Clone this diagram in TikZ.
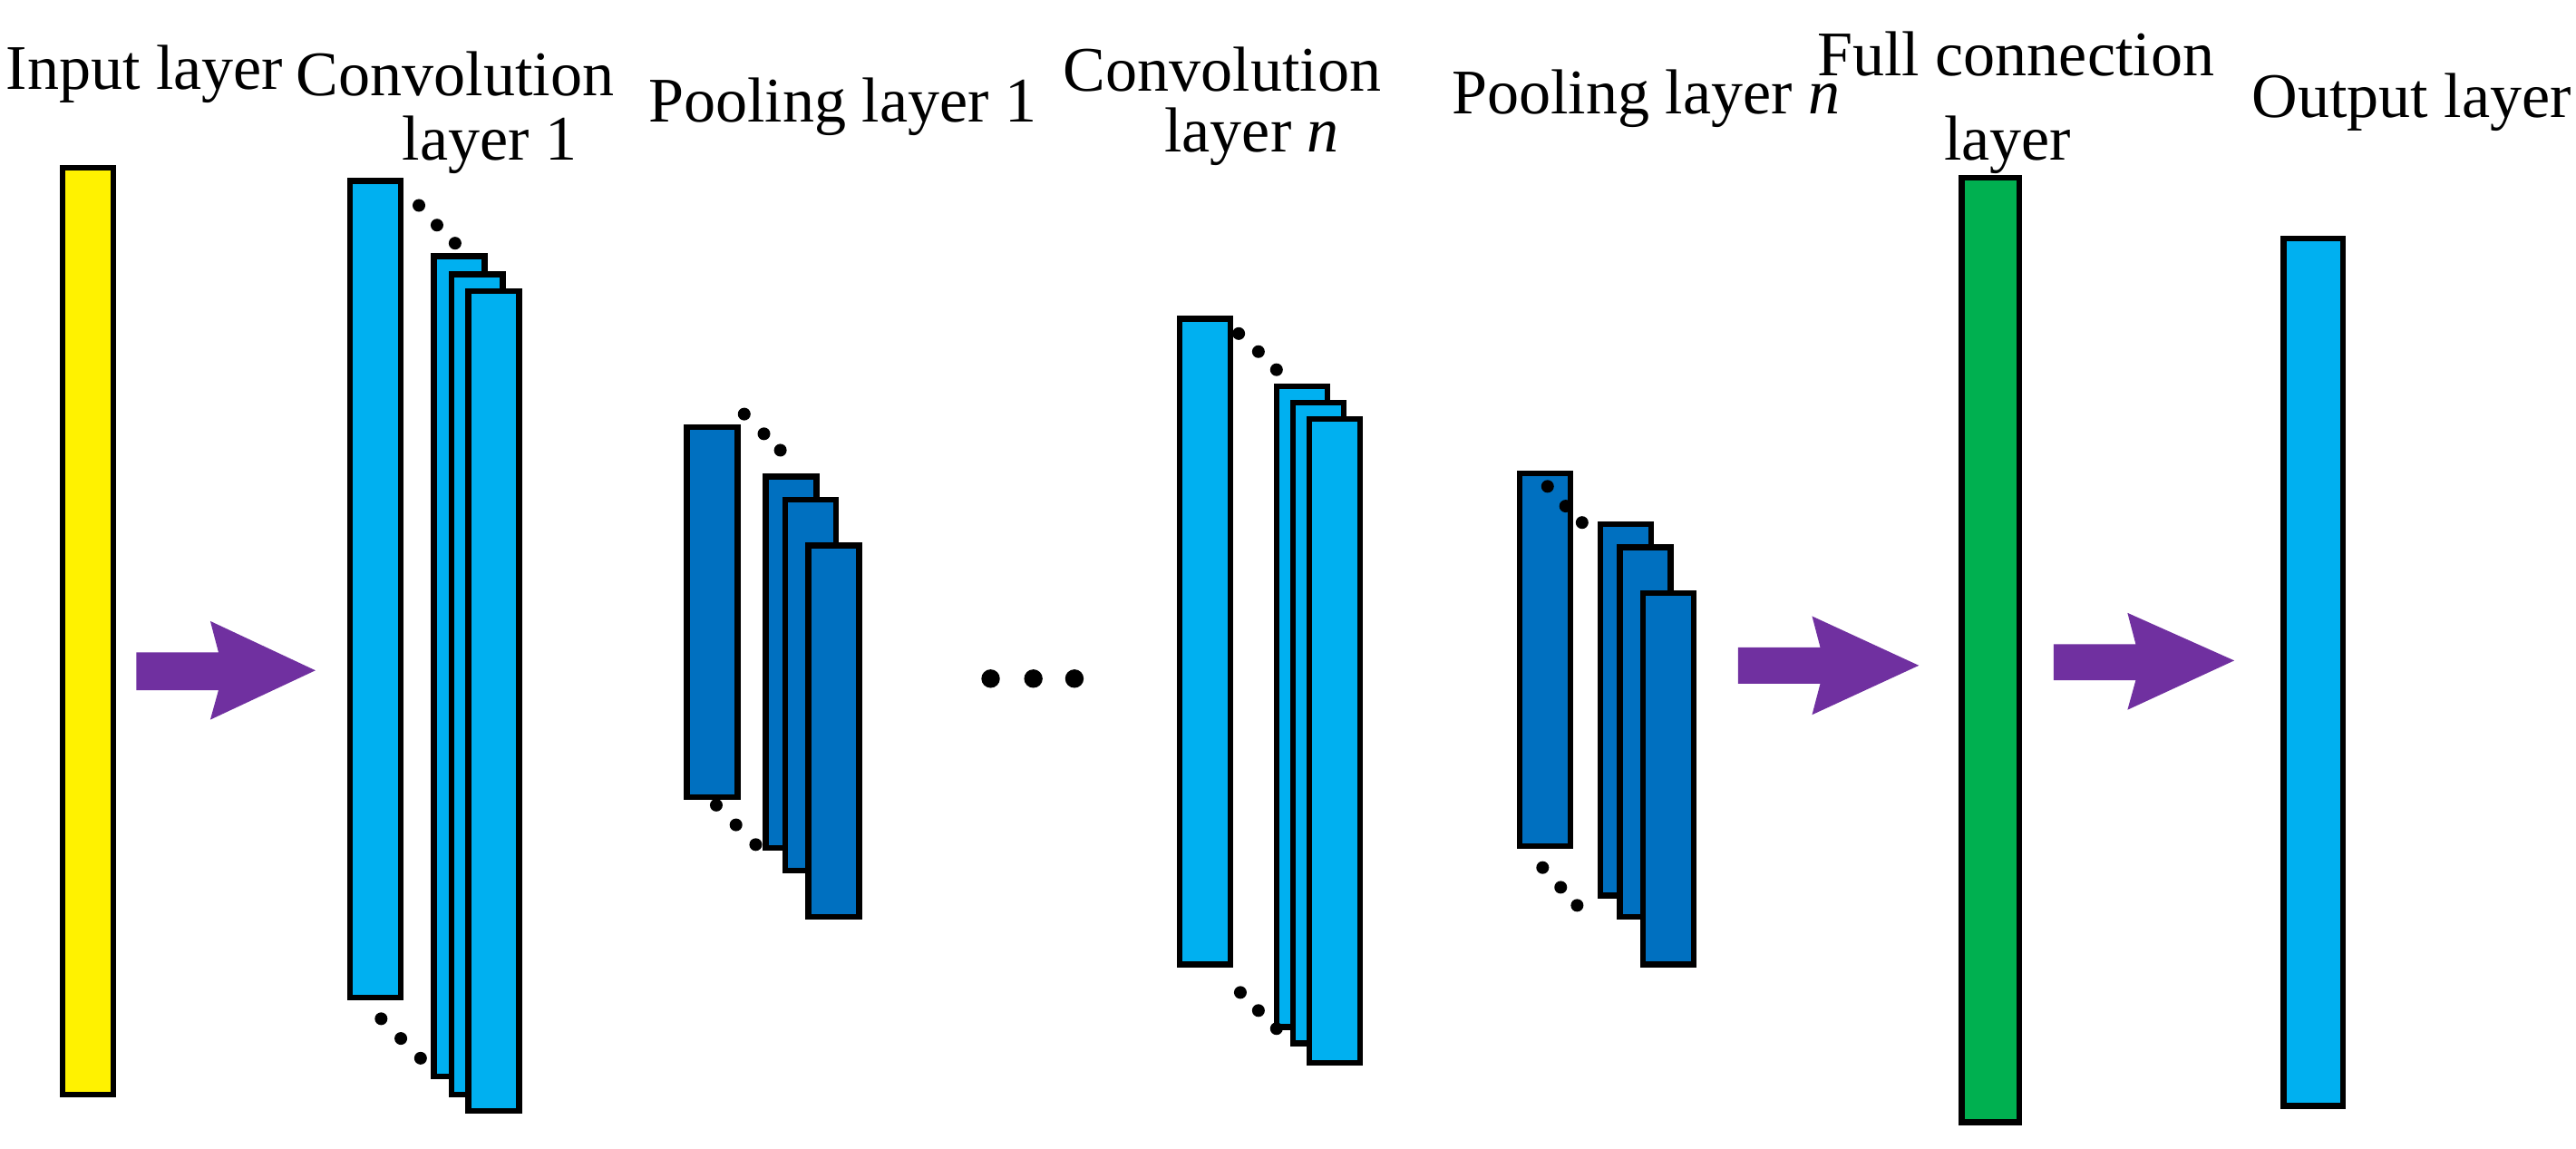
\documentclass[tikz,border=0pt]{standalone}
\usepackage{fontspec}
\setmainfont{Liberation Serif}
\definecolor{lblue}{HTML}{00B0F0}
\definecolor{dblue}{HTML}{0070C0}
\definecolor{fgreen}{HTML}{00B050}
\definecolor{apurple}{HTML}{7030A0}
\tikzset{
  lay/.style={draw=black,line width=1pt},
  lbl/.style={font=\fontsize{11pt}{13pt}\selectfont,inner sep=0pt},
  dot/.style={fill=black,circle,inner sep=0pt,minimum size=2.2pt},
  fat/.style={fill=apurple},
}
\begin{document}
\begin{tikzpicture}[x=0.01cm,y=-0.01cm]
\fill [color=white] (0, 0) rectangle (1568, 699);

% labels
\node [lbl] at (88, 45) {Input layer};
\node [lbl] at (277, 45) {Convolution};
\node [lbl] at (298, 88) {layer 1};
\node [lbl] at (513, 65) {Pooling layer 1};
\node [lbl] at (744, 42) {Convolution};
\node [lbl] at (762, 83) {layer \textit{n}};
\node [lbl] at (1002, 60) {Pooling layer \textit{n}};
\node [lbl] at (1227, 33) {Full connection};
\node [lbl] at (1222, 88) {layer};
\node [lbl] at (1468, 62) {Output layer};

% input
\filldraw [lay,fill=yellow] (38, 102) rectangle (69, 666);

% convolution layer 1
\filldraw [lay,fill=lblue] (213, 110) rectangle (244, 607);
\filldraw [lay,fill=lblue] (264, 156) rectangle (295, 655);
\filldraw [lay,fill=lblue] (275, 167) rectangle (306, 666);
\filldraw [lay,fill=lblue] (285, 177) rectangle (316, 676);
\foreach \x/\y in {255/125, 266/137, 277/148, 232/620, 244/632, 256/644}
  \node [dot] at (\x, \y) {};

% pooling layer 1
\filldraw [lay,fill=dblue] (418, 260) rectangle (449, 485);
\filldraw [lay,fill=dblue] (466, 290) rectangle (497, 516);
\filldraw [lay,fill=dblue] (478, 304) rectangle (509, 530);
\filldraw [lay,fill=dblue] (492, 332) rectangle (523, 558);
\foreach \x/\y in {453/252, 465/264, 475/274, 436/490, 448/502, 460/514}
  \node [dot] at (\x, \y) {};

% ellipsis
\foreach \x in {603, 629, 654}
  \node [dot,minimum size=3.2pt] at (\x, 413) {};

% convolution layer n
\filldraw [lay,fill=lblue] (718, 194) rectangle (749, 587);
\filldraw [lay,fill=lblue] (777, 235) rectangle (808, 625);
\filldraw [lay,fill=lblue] (787, 245) rectangle (818, 635);
\filldraw [lay,fill=lblue] (797, 255) rectangle (828, 647);
\foreach \x/\y in {754/203, 766/214, 777/225, 755/604, 766/615, 777/626}
  \node [dot] at (\x, \y) {};

% pooling layer n
\filldraw [lay,fill=dblue] (925, 288) rectangle (956, 515);
\filldraw [lay,fill=dblue] (974, 319) rectangle (1005, 545);
\filldraw [lay,fill=dblue] (986, 333) rectangle (1017, 558);
\filldraw [lay,fill=dblue] (1000, 361) rectangle (1031, 587);
\foreach \x/\y in {942/296, 953/308, 963/318, 939/528, 950/540, 960/551}
  \node [dot] at (\x, \y) {};

% full connection and output
\filldraw [lay,fill=fgreen] (1194, 108) rectangle (1229, 683);
\filldraw [lay,fill=lblue] (1390, 145) rectangle (1426, 673);

% arrows
\fill [fat] (83, 397) -- (133, 397) -- (128, 378) -- (192, 408) -- (128, 438) -- (133, 420) -- (83, 420) -- cycle;
\fill [fat] (1058, 394) -- (1108, 394) -- (1103, 375) -- (1168, 405) -- (1103, 435) -- (1108, 416) -- (1058, 416) -- cycle;
\fill [fat] (1250, 392) -- (1300, 392) -- (1295, 373) -- (1360, 402) -- (1295, 432) -- (1300, 414) -- (1250, 414) -- cycle;
\end{tikzpicture}
\end{document}
